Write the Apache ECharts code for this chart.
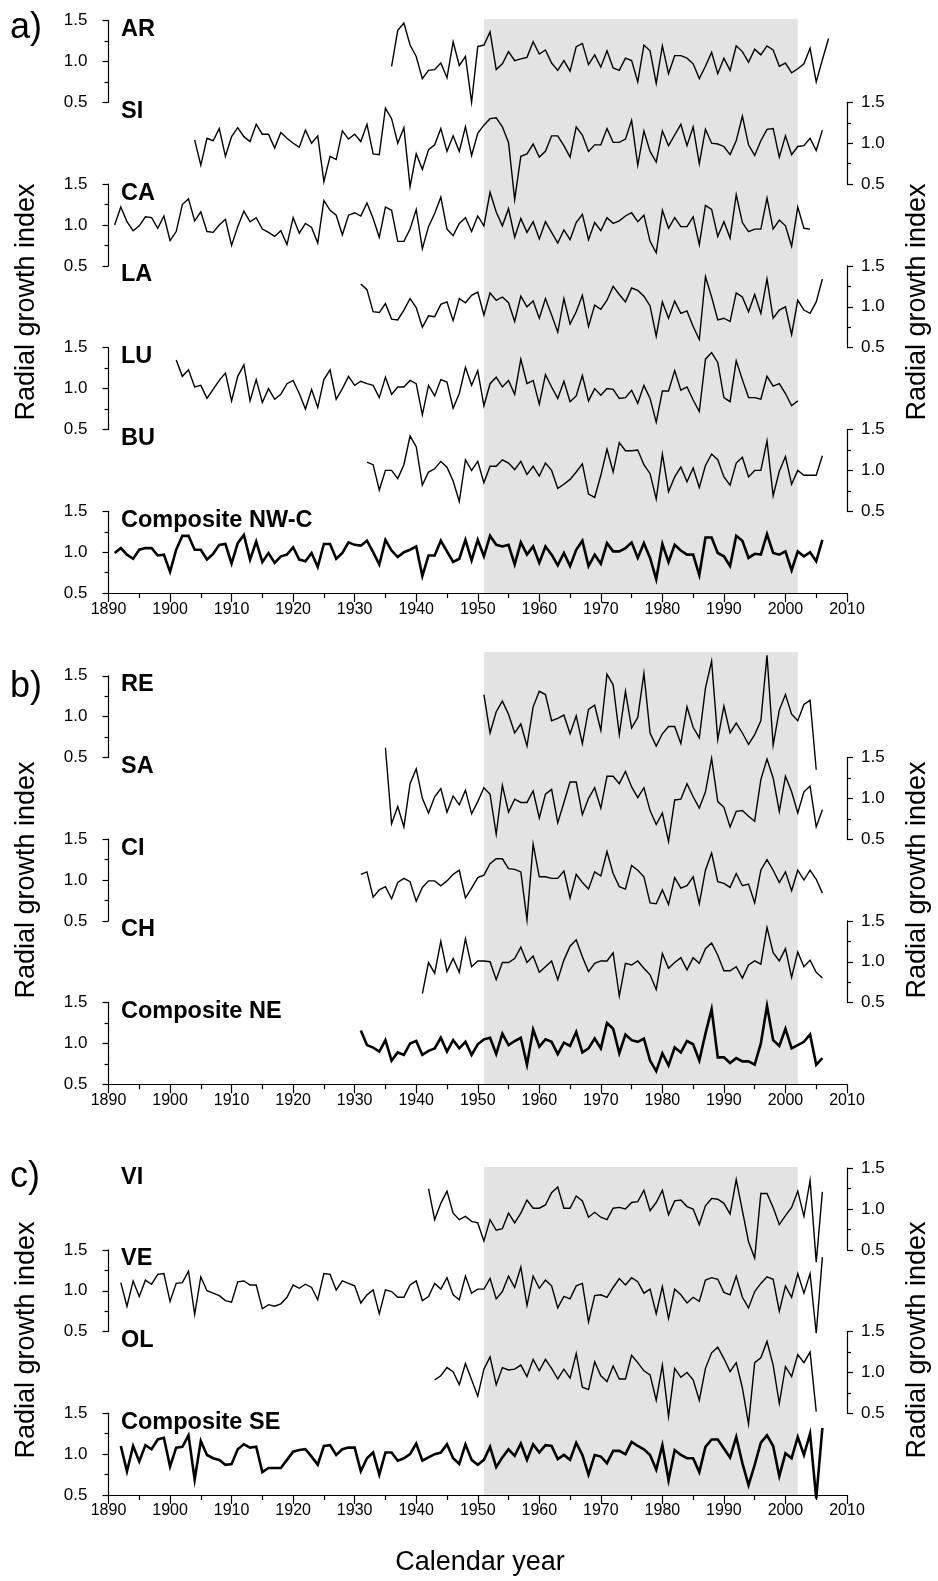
<!DOCTYPE html>
<html><head><meta charset="utf-8">
<script src="https://cdn.jsdelivr.net/npm/echarts@6/dist/echarts.min.js"></script>
<style>html,body{margin:0;padding:0;background:#fff}#c{width:938px;height:1581px}</style>
</head><body><div id="c"></div>
<script>
// ---------- data ----------
const YEAR_MIN = 1890, YEAR_MAX = 2010, YEAR_STEP = 10;
const SHADE_YEARS = [1951, 2002];
const Y_MIN = 0.5, Y_MAX = 1.5, Y_STEP = 0.5;
const Y_TITLE = 'Radial growth index';
const X_TITLE = 'Calendar year';

const AR_START = 1936;
const AR = [0.94,1.38,1.47,1.20,1.06,0.79,0.89,0.90,0.98,0.80,1.24,0.95,1.06,0.50,1.18,1.20,1.36,0.90,0.97,1.12,1.01,1.03,1.05,1.24,1.09,1.14,0.98,0.89,1.01,0.88,1.18,1.22,0.96,1.08,0.93,1.13,0.92,0.89,1.04,1.01,0.75,1.20,1.13,0.73,1.19,0.85,1.07,1.07,1.04,0.97,0.79,0.94,1.11,0.85,1.04,0.89,1.19,1.12,0.99,1.15,1.08,1.19,1.14,0.94,0.98,0.86,0.91,0.97,1.16,0.75,1.02,1.28];
const SI_START = 1904;
const SI = [1.04,0.73,1.06,1.03,1.18,0.84,1.08,1.19,1.08,1.02,1.23,1.11,1.11,0.94,1.13,1.06,1.00,0.95,1.16,1.00,1.09,0.53,0.84,0.80,1.15,1.05,1.11,1.02,1.23,0.87,0.86,1.43,1.30,1.00,1.19,0.47,0.87,0.68,0.92,0.98,1.18,0.90,1.09,0.90,1.20,0.85,1.12,1.22,1.30,1.31,1.20,1.01,0.31,0.84,0.87,0.99,0.83,0.90,1.09,1.09,0.97,0.83,1.20,1.10,0.90,0.98,0.98,1.18,1.01,1.01,1.05,1.28,0.73,1.15,0.90,0.77,1.15,0.97,1.10,1.23,0.97,1.20,0.75,1.17,1.00,0.99,0.96,0.86,1.03,1.33,0.98,0.85,1.03,1.17,1.18,0.83,1.09,0.86,0.96,0.97,1.06,0.91,1.16];
const CA_START = 1891;
const CA = [1.00,1.22,1.04,0.93,0.99,1.10,1.09,0.96,1.11,0.81,0.92,1.25,1.32,1.05,1.16,0.92,0.91,1.00,1.07,0.75,0.98,1.17,1.04,1.09,0.95,0.91,0.86,0.93,0.76,1.09,0.90,1.02,0.97,0.78,1.30,1.18,1.12,0.88,1.12,1.15,1.11,1.27,1.08,0.85,1.22,1.18,0.80,0.80,0.95,1.19,0.71,0.98,1.14,1.34,0.95,0.87,1.02,1.09,0.92,1.11,0.99,1.40,1.16,0.99,1.20,0.85,1.08,0.91,1.04,0.83,1.04,0.91,0.78,0.94,0.82,1.03,1.13,0.82,1.03,0.93,1.09,1.02,1.05,1.11,1.15,1.04,1.12,0.80,0.66,1.18,0.96,1.09,0.98,0.98,1.10,0.76,1.24,1.19,0.86,1.04,0.84,1.37,1.03,0.92,0.95,0.95,1.33,0.95,1.06,0.99,0.74,1.22,0.96,0.95];
const LA_START = 1931;
const LA = [1.28,1.21,0.94,0.93,1.04,0.85,0.84,0.96,1.10,0.99,0.75,0.89,0.88,1.03,1.06,0.83,1.10,1.05,1.14,1.18,0.90,1.17,1.08,1.12,1.05,0.82,1.13,1.00,1.07,0.86,1.10,0.90,0.69,1.10,0.79,0.94,1.14,0.76,1.02,0.97,1.08,1.25,1.15,1.06,1.23,1.20,1.13,1.01,0.64,1.06,0.86,1.07,0.92,0.95,0.76,0.60,1.37,1.12,0.84,0.86,0.82,1.17,1.12,0.94,1.15,0.92,1.34,0.86,0.96,1.00,0.66,1.08,0.96,0.92,1.06,1.34];
const LU_START = 1901;
const LU = [1.35,1.15,1.23,1.02,1.04,0.88,0.99,1.10,1.19,0.85,1.15,1.29,0.85,1.11,0.83,1.00,0.87,0.93,1.06,1.10,0.94,0.75,0.99,0.77,1.11,1.23,0.87,1.00,1.15,1.04,1.09,1.06,1.04,0.89,1.14,0.93,1.02,1.02,1.10,1.06,0.68,1.04,0.91,1.11,1.08,0.76,0.94,1.26,1.04,1.22,0.79,1.06,1.14,1.02,1.10,0.93,1.36,1.06,1.10,0.81,1.17,1.02,0.88,1.09,0.84,0.91,1.16,0.85,1.00,0.92,1.00,0.99,0.88,0.89,0.98,0.82,1.04,0.88,0.59,0.97,0.97,1.22,0.98,1.02,0.86,0.72,1.36,1.44,1.32,0.89,0.84,1.34,1.11,0.89,0.89,0.87,1.15,1.03,1.06,0.94,0.79,0.85];
const BU_START = 1932;
const BU = [1.10,1.07,0.76,1.00,1.00,0.90,1.07,1.42,1.29,0.82,0.98,1.02,1.11,1.04,0.87,0.62,1.13,1.00,1.11,0.85,1.05,1.05,1.13,1.09,1.01,1.11,0.95,1.05,0.93,1.09,1.00,0.78,0.83,0.89,0.98,1.08,0.71,0.67,0.94,1.26,0.98,1.34,1.24,1.24,1.25,1.07,0.96,0.65,1.20,0.74,0.92,1.04,0.86,1.03,0.79,1.06,1.20,1.13,0.92,0.82,1.09,1.16,0.92,1.00,1.00,1.36,0.69,0.99,1.17,0.83,1.00,0.94,0.94,0.94,1.18];
const NWC_START = 1891;
const NWC = [0.99,1.05,0.97,0.92,1.03,1.05,1.05,0.96,0.97,0.76,1.03,1.20,1.20,1.03,1.03,0.91,0.98,1.09,1.10,0.86,1.11,1.21,0.91,1.13,0.88,0.99,0.87,0.95,0.97,1.06,0.91,0.89,0.99,0.82,1.10,1.10,0.92,0.99,1.12,1.09,1.08,1.14,1.00,0.85,1.15,1.02,0.94,1.00,1.03,1.07,0.71,0.96,0.96,1.14,1.01,0.88,0.92,1.15,0.90,1.15,0.95,1.20,1.09,1.07,1.09,0.85,1.12,0.97,1.07,0.87,1.07,0.97,0.84,0.99,0.83,1.03,1.14,0.83,0.97,0.86,1.11,1.01,1.01,1.05,1.12,0.93,1.11,0.93,0.67,1.10,0.88,1.09,1.02,0.97,0.97,0.72,1.18,1.18,0.99,0.95,0.83,1.20,1.14,0.93,0.98,0.97,1.22,0.99,0.97,1.01,0.78,1.01,0.95,1.00,0.89,1.15];

const RE_START = 1951;
const RE = [1.27,0.80,1.06,1.19,1.03,0.80,0.91,0.64,1.12,1.31,1.27,0.95,0.98,1.02,0.79,1.01,0.67,1.09,1.14,0.83,1.52,1.39,0.78,1.31,0.86,0.99,1.53,0.80,0.64,0.79,0.88,0.88,0.67,1.12,0.87,0.74,1.35,1.68,0.72,1.13,0.80,0.92,0.80,0.66,0.78,0.95,1.75,0.65,1.08,1.27,1.03,0.95,1.15,1.20,0.35];
const SA_START = 1935;
const SA = [1.62,0.69,0.90,0.65,1.18,1.36,1.00,0.82,1.02,1.12,0.83,1.03,0.92,1.10,0.81,0.96,1.13,1.05,0.56,1.16,0.83,0.99,0.95,0.95,1.09,0.76,1.05,1.11,0.70,0.95,1.20,1.20,0.80,1.00,1.13,0.88,1.27,1.27,1.18,1.33,1.14,1.01,1.13,0.85,0.68,0.82,0.47,0.98,0.99,1.18,1.02,0.88,1.08,1.49,0.96,0.89,0.65,0.84,0.85,0.78,0.72,1.23,1.48,1.25,0.84,1.27,1.08,0.82,1.08,1.15,0.65,0.86];
const CI_START = 1931;
const CI = [1.07,1.10,0.79,0.88,0.92,0.77,0.97,1.02,0.98,0.74,0.91,0.99,0.99,0.93,0.99,1.07,1.12,0.78,0.90,1.03,1.06,1.20,1.26,1.26,1.14,1.13,1.10,0.51,1.44,1.04,1.04,1.02,1.02,1.11,0.78,1.07,0.97,0.89,1.10,1.05,1.35,1.08,0.92,0.89,1.18,1.12,1.04,0.72,0.71,0.88,0.70,1.03,0.90,0.93,1.04,0.71,1.12,1.33,0.98,0.96,0.91,1.08,0.93,0.95,0.72,1.12,1.25,1.12,0.97,1.10,0.87,1.12,1.00,1.12,1.01,0.84];
const CH_START = 1941;
const CH = [0.61,0.99,0.86,1.25,0.88,1.04,0.87,1.28,0.94,1.01,1.01,1.00,0.78,0.99,0.99,1.04,1.18,0.99,1.07,0.87,0.94,1.01,0.78,1.02,1.19,1.27,1.06,0.88,0.98,1.01,1.01,1.11,0.58,0.98,0.96,1.01,0.92,0.84,0.66,1.10,0.92,0.99,1.05,0.90,1.05,0.98,1.16,1.23,1.08,0.89,0.89,0.94,0.80,0.96,1.01,0.97,1.42,1.11,1.01,1.16,0.81,1.12,0.94,1.02,0.87,0.80];
const NE_START = 1931;
const NE = [1.16,0.98,0.95,0.90,1.04,0.79,0.89,0.86,1.00,1.03,0.86,0.91,0.94,1.07,0.90,1.04,0.94,1.02,0.86,0.99,1.05,1.07,0.87,1.12,0.98,1.03,1.07,0.74,1.17,0.96,1.05,1.02,0.87,1.01,0.97,1.14,0.89,0.94,1.06,0.94,1.25,1.18,0.88,1.11,1.04,1.02,1.06,0.79,0.66,0.88,0.73,0.95,0.89,1.03,0.99,0.79,1.12,1.42,0.83,0.83,0.76,0.82,0.78,0.78,0.74,1.00,1.46,1.04,0.97,1.18,0.94,0.98,1.02,1.11,0.74,0.82];

const VI_START = 1942;
const VI = [1.25,0.87,1.07,1.22,0.95,0.87,0.91,0.85,0.83,0.61,0.87,0.74,0.76,0.95,0.83,0.95,1.11,1.01,1.01,1.05,1.20,1.27,1.01,1.01,1.16,1.10,0.90,0.96,0.90,0.87,1.01,1.02,1.00,1.08,1.09,1.23,0.98,1.08,1.23,0.93,1.10,1.11,1.03,1.00,0.81,1.04,1.13,1.12,1.07,0.94,1.36,0.98,0.60,0.40,1.19,1.19,1.02,0.81,0.92,1.02,1.22,0.91,1.35,0.35,1.21];
const VE_START = 1892;
const VE = [1.10,0.81,1.12,0.93,1.13,1.08,1.20,1.21,0.87,1.09,1.10,1.24,0.71,1.17,1.00,0.97,0.94,0.88,0.86,1.11,1.12,1.07,1.07,0.78,0.83,0.81,0.84,0.92,1.07,1.03,1.08,1.04,0.89,1.21,1.20,1.01,1.12,1.09,1.06,0.85,0.95,1.01,0.72,1.01,0.99,0.92,0.92,1.07,1.12,0.88,0.93,1.09,1.02,1.16,0.95,0.89,1.18,0.97,1.02,1.02,1.15,0.90,0.99,1.18,1.04,1.29,0.82,1.18,1.03,1.13,1.06,0.79,0.93,0.90,1.06,1.09,0.62,0.94,0.95,0.92,1.04,1.15,1.07,1.16,1.11,0.97,1.02,0.72,1.05,0.66,1.02,0.95,0.85,0.92,0.87,1.13,1.16,1.14,0.98,0.95,1.18,0.92,0.79,0.99,1.09,1.17,1.14,0.75,1.06,0.92,1.21,0.97,1.21,0.48,1.41];
const OL_START = 1943;
const OL = [0.91,0.96,1.06,1.01,0.85,1.11,0.91,0.71,1.04,1.19,0.85,1.06,1.03,1.04,1.09,0.95,1.16,1.02,1.16,1.05,0.92,1.04,0.93,1.23,0.82,0.79,1.13,0.96,0.89,1.08,0.92,0.92,1.21,1.12,1.02,0.97,0.66,1.09,0.46,1.05,0.94,1.00,0.91,0.66,1.05,1.24,1.31,1.17,1.01,1.12,0.81,0.37,1.12,1.18,1.38,1.09,0.62,1.07,0.95,1.22,1.12,1.25,0.52];
const SE_START = 1892;
const SE = [1.10,0.79,1.10,0.91,1.11,1.06,1.18,1.20,0.85,1.08,1.09,1.23,0.69,1.16,0.99,0.95,0.93,0.87,0.88,1.06,1.12,1.08,1.09,0.78,0.83,0.83,0.83,0.93,1.03,1.05,1.06,0.97,0.87,1.10,1.11,0.99,1.06,1.08,1.08,0.79,0.95,1.02,0.75,1.02,1.02,0.92,0.95,1.00,1.13,0.92,0.96,1.00,1.02,1.12,0.95,0.88,1.12,0.93,0.87,0.93,1.09,0.84,0.96,1.06,0.98,1.13,0.93,1.12,1.02,1.11,1.10,0.94,0.99,0.93,1.14,0.99,0.75,0.99,0.97,0.89,1.04,1.04,1.00,1.15,1.10,1.06,0.99,0.81,1.11,0.68,1.05,0.99,0.95,0.95,0.78,1.09,1.18,1.18,1.07,0.96,1.21,0.89,0.62,0.87,1.14,1.23,1.10,0.73,1.01,0.95,1.21,0.99,1.25,0.46,1.32];

// ---------- layout ----------
const FONT = "'Liberation Sans', Arial, sans-serif";
const PLOT_LEFT = 108.5, PLOT_WIDTH = 738.5;
const panels = [
  { tag: 'a)', tagTop: 10, shadeTop: 19, bandH: 81.8, titleY: 302, bands: [
    { name: 'AR', start: AR_START, values: AR, side: 'left', top: 20.5 },
    { name: 'SI', start: SI_START, values: SI, side: 'right', top: 102.3 },
    { name: 'CA', start: CA_START, values: CA, side: 'left', top: 184.1 },
    { name: 'LA', start: LA_START, values: LA, side: 'right', top: 265.9 },
    { name: 'LU', start: LU_START, values: LU, side: 'left', top: 347.7 },
    { name: 'BU', start: BU_START, values: BU, side: 'right', top: 429.5 },
    { name: 'Composite NW-C', start: NWC_START, values: NWC, side: 'left', top: 511.3, bold: true }
  ]},
  { tag: 'b)', tagTop: 669, shadeTop: 652, bandH: 81.7, titleY: 880, bands: [
    { name: 'RE', start: RE_START, values: RE, side: 'left', top: 675.8 },
    { name: 'SA', start: SA_START, values: SA, side: 'right', top: 757.5 },
    { name: 'CI', start: CI_START, values: CI, side: 'left', top: 839.2 },
    { name: 'CH', start: CH_START, values: CH, side: 'right', top: 920.9 },
    { name: 'Composite NE', start: NE_START, values: NE, side: 'left', top: 1002.6, bold: true }
  ]},
  { tag: 'c)', tagTop: 1159, shadeTop: 1167, bandH: 81.7, titleY: 1340, bands: [
    { name: 'VI', start: VI_START, values: VI, side: 'right', top: 1168.2 },
    { name: 'VE', start: VE_START, values: VE, side: 'left', top: 1249.9 },
    { name: 'OL', start: OL_START, values: OL, side: 'right', top: 1331.6 },
    { name: 'Composite SE', start: SE_START, values: SE, side: 'left', top: 1413.3, bold: true }
  ]}
];

const grid = [], xAxis = [], yAxis = [], series = [], graphic = [];
const black = '#000';

panels.forEach(p => {
  const lastBand = p.bands[p.bands.length - 1];
  const bottom = lastBand.top + p.bandH;
  // shaded period
  let gi = grid.length;
  grid.push({ left: PLOT_LEFT, width: PLOT_WIDTH, top: p.shadeTop, height: bottom - p.shadeTop });
  xAxis.push({ gridIndex: gi, type: 'value', min: YEAR_MIN, max: YEAR_MAX, show: false });
  yAxis.push({ gridIndex: gi, type: 'value', min: 0, max: 1, show: false });
  series.push({
    type: 'line', xAxisIndex: gi, yAxisIndex: gi, data: [], z: 0, silent: true,
    markArea: { silent: true, itemStyle: { color: '#e3e3e3' },
      data: [[{ xAxis: SHADE_YEARS[0] }, { xAxis: SHADE_YEARS[1] }]] }
  });

  p.bands.forEach((b, bi) => {
    const isLast = bi === p.bands.length - 1;
    const g = grid.length;
    grid.push({ left: PLOT_LEFT, width: PLOT_WIDTH, top: b.top, height: p.bandH });
    if (isLast) {
      xAxis.push({
        gridIndex: g, type: 'value', min: YEAR_MIN, max: YEAR_MAX, interval: YEAR_STEP, z: 5,
        axisLine: { show: true, onZero: false, lineStyle: { color: black, width: 1.2 } },
        axisTick: { show: true, length: 9, lineStyle: { color: black, width: 1.2 } },
        minorTick: { show: true, splitNumber: 2, length: 5, lineStyle: { color: black, width: 1.2 } },
        splitLine: { show: false },
        axisLabel: { fontSize: 16, color: black, fontFamily: FONT, margin: 8, formatter: v => String(v) }
      });
    } else {
      xAxis.push({ gridIndex: g, type: 'value', min: YEAR_MIN, max: YEAR_MAX, show: false });
    }
    yAxis.push({
      gridIndex: g, type: 'value', min: Y_MIN, max: Y_MAX, interval: Y_STEP, position: b.side, z: 5,
      axisLine: { show: true, onZero: false, lineStyle: { color: black, width: 1.2 } },
      axisTick: { show: true, length: 6, lineStyle: { color: black, width: 1.2 } },
      minorTick: { show: true, splitNumber: 2, length: 4, lineStyle: { color: black, width: 1.2 } },
      splitLine: { show: false },
      axisLabel: { fontSize: 17, color: black, fontFamily: FONT, margin: b.side === 'left' ? 21 : 14,
        formatter: v => v.toFixed(1) }
    });
    series.push({
      type: 'line', name: b.name, xAxisIndex: g, yAxisIndex: g,
      data: b.values.map((v, i) => [b.start + i, v]),
      symbol: 'none', showSymbol: false, clip: false, z: 3, silent: true,
      lineStyle: { color: black, width: b.bold ? 2.6 : 1.4, join: 'miter' }
    });
    graphic.push({ type: 'text', x: 121, y: b.top - 3, z: 10, silent: true,
      style: { text: b.name, fill: black, font: 'bold 23.5px ' + FONT, textAlign: 'left', textVerticalAlign: 'top', align: 'left', verticalAlign: 'top' } });
  });

  graphic.push({ type: 'text', x: 10, y: p.tagTop, z: 10, silent: true,
    style: { text: p.tag, fill: black, font: '36px ' + FONT, textAlign: 'left', textVerticalAlign: 'top', align: 'left', verticalAlign: 'top' } });
  [27, 918].forEach(xc => {
    graphic.push({ type: 'text', x: xc, y: p.titleY, rotation: Math.PI / 2, z: 10, silent: true,
      style: { text: Y_TITLE, fill: black, font: '27px ' + FONT, textAlign: 'center', textVerticalAlign: 'middle', align: 'center', verticalAlign: 'middle' } });
  });
});

graphic.push({ type: 'text', x: 480, y: 1563, z: 10, silent: true,
  style: { text: X_TITLE, fill: black, font: '27px ' + FONT, textAlign: 'center', textVerticalAlign: 'middle', align: 'center', verticalAlign: 'middle' } });

const chart = echarts.init(document.getElementById('c'), null, { renderer: 'canvas' });
chart.setOption({ animation: false, backgroundColor: '#fff', grid, xAxis, yAxis, series, graphic });
</script>
</body></html>
